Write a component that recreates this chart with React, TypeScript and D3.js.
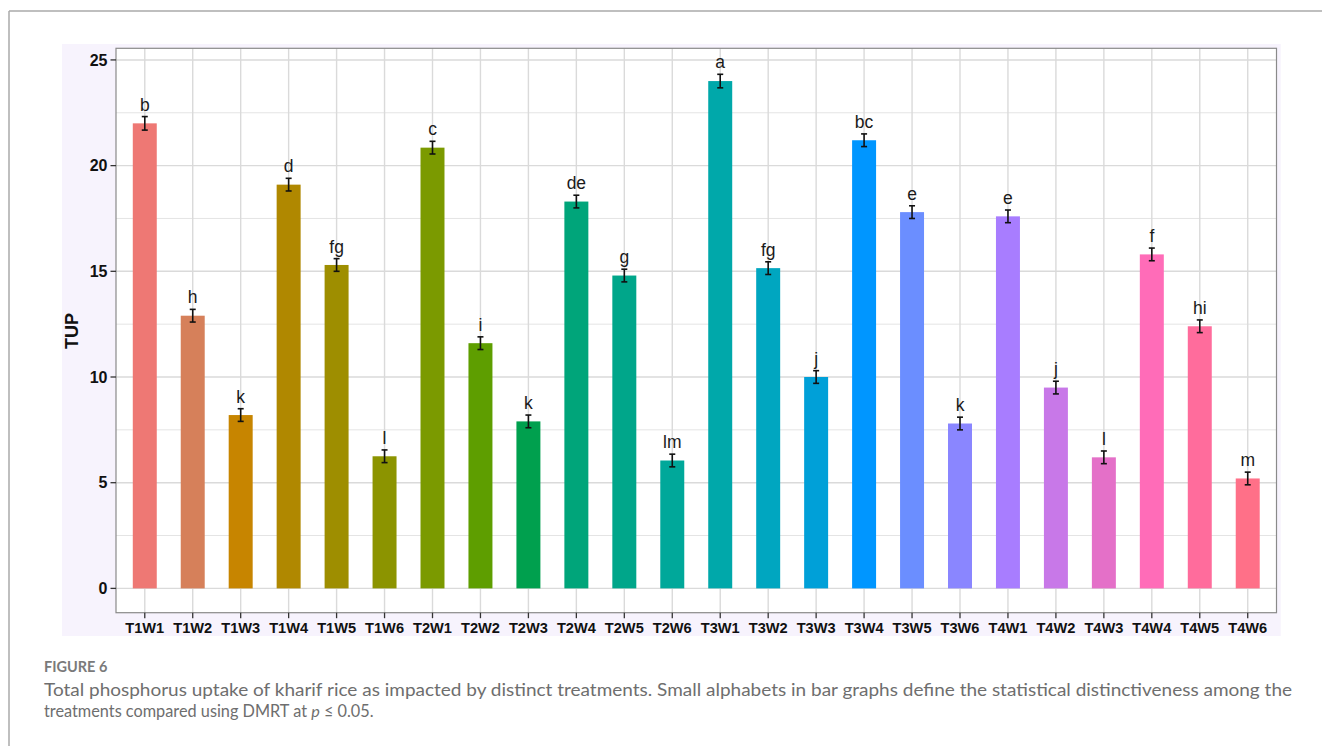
import React from "react";
import * as d3 from "d3";

const categories = ["T1W1","T1W2","T1W3","T1W4","T1W5","T1W6","T2W1","T2W2","T2W3","T2W4","T2W5","T2W6","T3W1","T3W2","T3W3","T3W4","T3W5","T3W6","T4W1","T4W2","T4W3","T4W4","T4W5","T4W6"];
const values = [22.0,12.9,8.2,19.1,15.3,6.25,20.85,11.6,7.9,18.3,14.8,6.05,24.0,15.15,10.0,21.2,17.8,7.8,17.6,9.5,6.2,15.8,12.4,5.2];
const errors = [0.32,0.3,0.3,0.3,0.3,0.3,0.3,0.3,0.3,0.3,0.3,0.3,0.32,0.3,0.3,0.3,0.3,0.3,0.3,0.3,0.3,0.3,0.3,0.3];
const letters = ["b","h","k","d","fg","l","c","i","k","de","g","lm","a","fg","j","bc","e","k","e","j","l","f","hi","m"];
const yTicks = [0,5,10,15,20,25];
const yMinor = [2.5,7.5,12.5,17.5,22.5];
const colors = ["#EE7874","#D6805A","#C78500","#B08800","#9E8E00","#8C9400","#7B9A00","#5E9E00","#00A04E","#00A57A","#00A68A","#00A89A","#00A8AA","#00A6C0","#00A0D8","#0096FF","#6B8EFF","#8A86FF","#A87DFF","#C878E8","#E470C8","#FF6CB8","#FF6C9C","#FF7088"];

export default function App() {
  const W = 1322, H = 746;
  const left = 116, right = 1276.5, top = 48.3, bottom = 612.7;
  // ggplot-like discrete expansion: 0.6 units each side
  const x = d3.scalePoint<string>().domain(categories).range([left, right]).padding(0.6);
  const cx = (i: number) => x(categories[i]) as number;
  const step = x.step();
  const y = d3.scaleLinear().domain([-1.15, 25.55]).range([bottom, top]);
  const bw = step * 0.5;
  const font = "'Liberation Sans', Arial, sans-serif";
  const capFont = "Lato, 'Open Sans', sans-serif";

  return (
    <svg width={W} height={H} style={{ position: "absolute", left: 0, top: 0, background: "#fff" }}>
      {/* outer frame */}
      <line x1={9} y1={11} x2={W} y2={11} stroke="#aaaaaa" strokeWidth={1.5} />
      <line x1={9} y1={11} x2={9} y2={H} stroke="#aaaaaa" strokeWidth={1.5} />
      {/* lavender background */}
      <rect x={62} y={44} width={1280.7 - 62} height={636 - 44} fill="#f7f3fd" />
      <rect x={left} y={top} width={right - left} height={bottom - top} fill="#ffffff" />
      {/* grid */}
      {yMinor.map((t) => (
        <line key={"mn" + t} x1={left} x2={right} y1={y(t)} y2={y(t)} stroke="#e4e4e4" strokeWidth={1} />
      ))}
      {yTicks.map((t) => (
        <line key={"mj" + t} x1={left} x2={right} y1={y(t)} y2={y(t)} stroke="#dadada" strokeWidth={1.4} />
      ))}
      {categories.map((c, i) => (
        <line key={"vg" + c} x1={cx(i)} x2={cx(i)} y1={top} y2={bottom} stroke="#dadada" strokeWidth={1.4} />
      ))}
      {/* bars */}
      {categories.map((c, i) => (
        <rect key={"b" + c} x={cx(i) - bw / 2} y={y(values[i])} width={bw} height={y(0) - y(values[i])} fill={colors[i]} />
      ))}
      {/* error bars */}
      {categories.map((c, i) => {
        const y1 = y(values[i] + errors[i]);
        const y2 = y(values[i] - errors[i]);
        const xc = cx(i);
        return (
          <g key={"e" + c} stroke="#111" strokeWidth={1.6}>
            <line x1={xc} x2={xc} y1={y1} y2={y2} />
            <line x1={xc - 3} x2={xc + 3} y1={y1} y2={y1} />
            <line x1={xc - 3} x2={xc + 3} y1={y2} y2={y2} />
          </g>
        );
      })}
      {/* letters */}
      {categories.map((c, i) => (
        <text key={"l" + c} x={cx(i)} y={y(values[i] + errors[i]) - 6} textAnchor="middle" fontFamily={font} fontSize={17.5} fill="#1a1a1a">
          {letters[i]}
        </text>
      ))}
      {/* panel border */}
      <rect x={left} y={top} width={right - left} height={bottom - top} fill="none" stroke="#8a8a8a" strokeWidth={1.2} />
      {/* y axis */}
      {yTicks.map((t) => (
        <g key={"yt" + t}>
          <line x1={left - 5.5} x2={left} y1={y(t)} y2={y(t)} stroke="#333" strokeWidth={1.3} />
          <text x={107.5} y={y(t)} dy="0.36em" textAnchor="end" fontFamily={font} fontWeight="bold" fontSize={16} fill="#111">
            {t}
          </text>
        </g>
      ))}
      {/* x axis */}
      {categories.map((c, i) => (
        <g key={"xt" + c}>
          <line x1={cx(i)} x2={cx(i)} y1={bottom} y2={bottom + 5.5} stroke="#333" strokeWidth={1.3} />
          <text x={cx(i)} y={633} textAnchor="middle" fontFamily={font} fontWeight="bold" fontSize={14.6} fill="#111">
            {c}
          </text>
        </g>
      ))}
      <text transform={`translate(78,331) rotate(-90)`} textAnchor="middle" fontFamily={font} fontWeight="bold" fontSize={18} fill="#111">
        TUP
      </text>
      {/* caption */}
      <text x={44} y={672} fontFamily={capFont} fontWeight={700} fontSize={14.5} fill="#7a7a7a">
        FIGURE 6
      </text>
      <text x={44} y={696} fontFamily={capFont} fontSize={17} fill="#6e6e6e" textLength={1248} lengthAdjust="spacingAndGlyphs">
        Total phosphorus uptake of kharif rice as impacted by distinct treatments. Small alphabets in bar graphs define the statistical distinctiveness among the
      </text>
      <text x={44} y={717} fontFamily={capFont} fontSize={16.3} fill="#6e6e6e">
        treatments compared using DMRT at <tspan fontStyle="italic">p</tspan> ≤ 0.05.
      </text>
    </svg>
  );
}
